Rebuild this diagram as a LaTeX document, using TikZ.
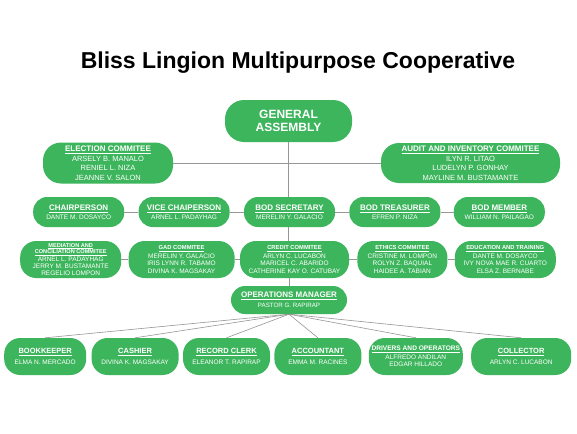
\documentclass[tikz,border=0pt]{standalone}
\usepackage{fontspec}
\setmainfont{Liberation Sans}
\usetikzlibrary{positioning}
\definecolor{PillGreen}{RGB}{61,181,92}
\definecolor{LinkGray}{RGB}{150,150,150}
\newcommand{\hd}[1]{\underline{\textbf{#1}}}
\newcommand{\fs}[2]{\fontsize{#1}{#2}\selectfont}
\tikzset{
  pill/.style={rectangle,rounded corners=14pt,fill=PillGreen,text=white,
               align=center,inner sep=0pt},
  gabox/.style={pill,rounded corners=19pt,minimum width=127pt,minimum height=42pt,
                font=\fs{12}{13.5}\bfseries},
  combox/.style={pill,rounded corners=18pt,minimum height=41pt,font=\fs{7.5}{9.5}},
  bodbox/.style={pill,minimum width=91pt,minimum height=30pt,font=\fs{6.5}{9}},
  subbox/.style={pill,rounded corners=16pt,minimum height=37pt,font=\fs{6.5}{7.4}},
  mgrbox/.style={pill,minimum width=116pt,minimum height=28pt,font=\fs{6.2}{10}},
  staffbox/.style={pill,rounded corners=16pt,minimum height=37pt,font=\fs{6.5}{10.5}},
  link/.style={draw=LinkGray,line width=0.6pt},
}
\begin{document}
\begin{tikzpicture}[x=1pt,y=-1pt]
  \fill[white] (0,0) rectangle (577,433);
  \useasboundingbox (0,0) rectangle (577,433);
  \node[font=\fs{23}{26}\bfseries,anchor=base] (title) at (298,69)
    {Bliss Lingion Multipurpose Cooperative};
  % assembly and committees
  \node[gabox] (ga) at (288.5,121) {GENERAL\\ASSEMBLY};
  \node[combox,minimum width=130pt] (elect) at (108,163)
    {{\fs{8}{9.5}\hd{ELECTION COMMITEE}}\\ARSELY B. MANALO\\RENIEL L. NIZA\\JEANNE V. SALON};
  \node[combox,minimum width=179pt,minimum height=40pt] (audit) at (470.5,163)
    {{\fs{8}{9.5}\hd{AUDIT AND INVENTORY COMMITEE}}\\ILYN R. LITAO\\LUDELYN P. GONHAY\\MAYLINE M. BUSTAMANTE};
  % board of directors
  \node[bodbox] (sec) at (289.5,212) {{\fs{8}{9}\hd{BOD SECRETARY}}\\MERELIN Y. GALACIO};
  \node[bodbox,left=14pt of sec] (vice) {{\fs{8}{9}\hd{VICE CHAIPERSON}}\\ARNEL L. PADAYHAG};
  \node[bodbox,left=14pt of vice] (chair) {{\fs{8}{9}\hd{CHAIRPERSON}}\\DANTE M. DOSAYCO};
  \node[bodbox,right=14pt of sec] (treas) {{\fs{8}{9}\hd{BOD TREASURER}}\\EFREN P. NIZA};
  \node[bodbox,right=13pt of treas] (member) {{\fs{8}{9}\hd{BOD MEMBER}}\\WILLIAM N. PAILAGAO};
  % sub committees
  \node[subbox,minimum width=109pt] (cred) at (294.5,259.5)
    {{\fs{5.8}{7.4}\hd{CREDIT COMMITEE}}\\[1.2pt]ARLYN C. LUCABON\\MARICEL C. ABARIDO\\CATHERINE KAY O. CATUBAY};
  \node[subbox,minimum width=106pt,left=5pt of cred] (gad)
    {{\fs{5.8}{7.4}\hd{GAD COMMITEE}}\\[1.2pt]MERELIN Y. GALACIO\\IRIS LYNN R. TABAMO\\DIVINA K. MAGSAKAY};
  \node[subbox,minimum width=101pt,left=7pt of gad,font=\fs{6.5}{7.1}] (med)
    {{\fs{5.6}{7.1}\hd{MEDIATION AND}}\\[-0.5pt]{\fs{5.6}{7.1}\hd{CONCILIATION COMMITEE}}\\[0.6pt]ARNEL L. PADAYHAG\\JERRY M. BUSTAMANTE\\REGELIO LOMPON};
  \node[subbox,minimum width=90pt,right=8pt of cred] (eth)
    {{\fs{5.8}{7.4}\hd{ETHICS COMMITEE}}\\[1.2pt]CRISTINE M. LOMPON\\ROLYN Z. BAQUIAL\\HAIDEE A. TABIAN};
  \node[subbox,minimum width=101pt,right=7pt of eth] (edu)
    {{\fs{5.8}{7.4}\hd{EDUCATION AND TRAINING}}\\[1.2pt]DANTE M. DOSAYCO\\IVY NOVA MAE R. CUARTO\\ELSA Z. BERNABE};
  % management and staff
  \node[mgrbox] (mgr) at (289,300) {{\fs{8}{10}\hd{OPERATIONS MANAGER}}\\PASTOR G. RAPIRAP};
  \node[staffbox,minimum width=87pt] (rec) at (226.5,356.5) {{\fs{7.5}{10.5}\hd{RECORD CLERK}}\\ELEANOR T. RAPIRAP};
  \node[staffbox,minimum width=87pt,left=4pt of rec] (cash) {{\fs{7.5}{10.5}\hd{CASHIER}}\\DIVINA K. MAGSAKAY};
  \node[staffbox,minimum width=82pt,left=5pt of cash] (book) {{\fs{7.5}{10.5}\hd{BOOKKEEPER}}\\ELMA N. MERCADO};
  \node[staffbox,minimum width=87pt,right=4pt of rec] (acct) {{\fs{7.5}{10.5}\hd{ACCOUNTANT}}\\EMMA M. RACINES};
  \node[staffbox,minimum width=94pt,right=7pt of acct,font=\fs{6.5}{7.4}] (drv)
    {{\fs{6.6}{7.4}\hd{DRIVERS AND OPERATORS}}\\[1.2pt]ALFREDO ANDILAN\\EDGAR HILLADO};
  \node[staffbox,minimum width=100pt,right=8pt of drv] (coll) {{\fs{7.5}{10.5}\hd{COLLECTOR}}\\ARLYN C. LUCABON};
  % connectors
  \draw[link] (ga.south) -- (ga.south |- sec.north);
  \draw[link] (elect.east) -- (audit.west);
  \draw[link] (chair) -- (vice) -- (sec) -- (treas) -- (member);
  \draw[link] (ga.south |- sec.south) -- (ga.south |- cred.north);
  \draw[link] (med) -- (gad) -- (cred) -- (eth) -- (edu);
  \draw[link] (mgr.north |- cred.south) -- (mgr.north);
  \foreach \s in {book,cash,rec,acct,drv,coll}
    \draw[link] (mgr.south) -- (\s.north);
\end{tikzpicture}
\end{document}
